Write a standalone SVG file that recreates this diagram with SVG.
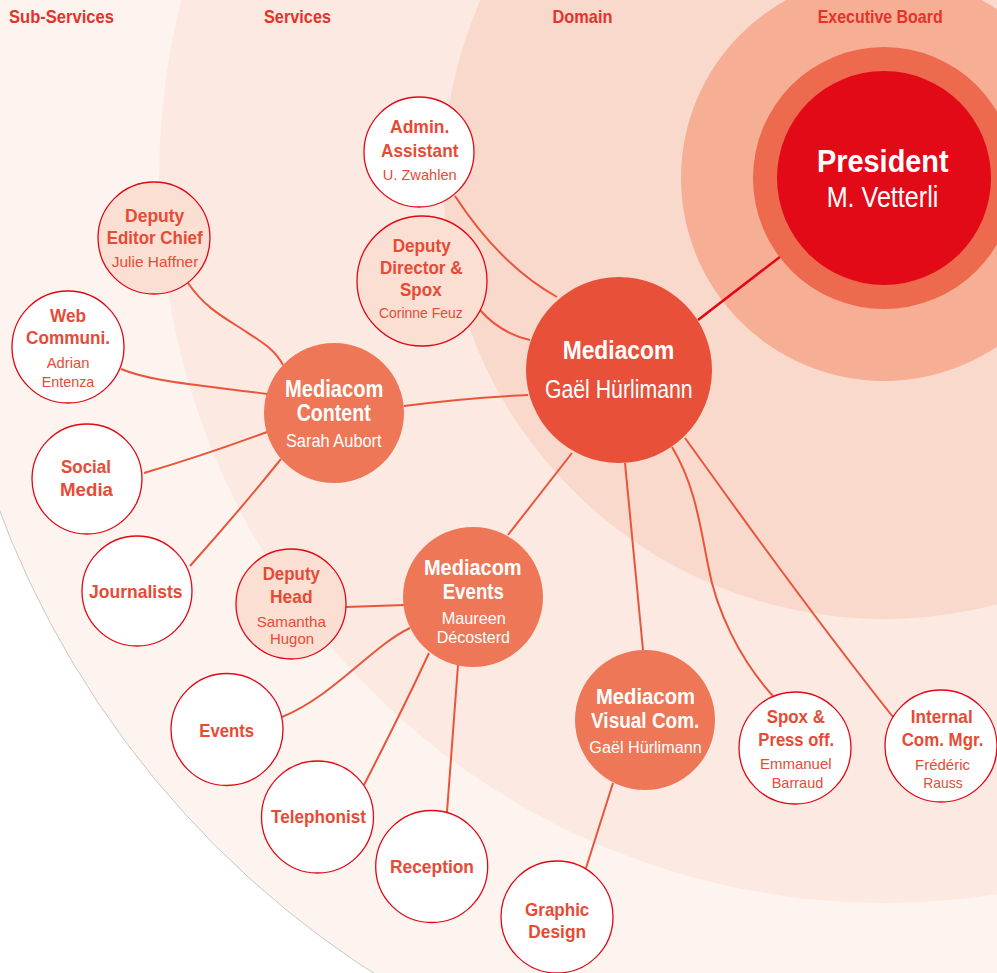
<svg xmlns="http://www.w3.org/2000/svg" width="997" height="973" viewBox="0 0 997 973">
<defs>
<style>
text{font-family:"Liberation Sans Narrow","Liberation Sans",Arial,sans-serif;text-anchor:middle}
.hdr{fill:#E3342B;font-weight:bold;font-size:19px}
.tb{fill:#E64B35;font-weight:bold;font-size:19px}
.tn{fill:#E64B35;font-size:15px}
.wb{fill:#FFFFFF;font-weight:bold}
.wn{fill:#FFFFFF}
.sub{fill:#FFFFFF;stroke:#E30613;stroke-width:1.3}
.dep{fill:#FBDFD3;stroke:#E30613;stroke-width:1.3}
.svc{fill:#EE7757}
.dom{fill:#E8503A}
.con{fill:none;stroke:#E9553B;stroke-width:2}
.conp{fill:none;stroke:#E30613;stroke-width:2.5}
</style>
</defs>
<rect x="0" y="0" width="997" height="973" fill="#FFFFFF"/>
<g id="background">
<circle cx="884" cy="178" r="945" fill="#FDF4F0" stroke="#BBBBBB" stroke-width="0.8"/>
<circle cx="884" cy="178" r="725" fill="#FCEAE2"/>
<circle cx="884" cy="178" r="441" fill="#F9D9CB"/>
<circle cx="884" cy="178" r="203" fill="#F6AE94"/>
</g>
<g id="headers">
<text class="hdr" x="61.5" y="22.7" textLength="105" lengthAdjust="spacingAndGlyphs">Sub-Services</text>
<text class="hdr" x="297.5" y="22.7" textLength="67" lengthAdjust="spacingAndGlyphs">Services</text>
<text class="hdr" x="582.5" y="22.7" textLength="60" lengthAdjust="spacingAndGlyphs">Domain</text>
<text class="hdr" x="880.2" y="22.7" textLength="125" lengthAdjust="spacingAndGlyphs">Executive Board</text>
</g>
<g id="connectors">
<path class="conp" d="M698,320 Q745,284 798,243"/>
<path class="con" d="M455,196 Q500,265 557,297"/>
<path class="con" d="M480,310 Q500,333 530,340"/>
<path class="con" d="M404,406 Q465,398 528,395"/>
<path class="con" d="M188,283 C205,308 225,318 245,331 S275,350 283,365"/>
<path class="con" d="M121,369 C150,381 190,384 267,394"/>
<path class="con" d="M144,473 Q205,455 267,432"/>
<path class="con" d="M281,459 Q240,510 190,566"/>
<path class="con" d="M572,453 L508,535"/>
<path class="con" d="M625,463 L643,650"/>
<path class="con" d="M672,447 C695,485 700,525 708,565 C716,610 740,660 773,696"/>
<path class="con" d="M685,438 C730,500 800,600 893,717"/>
<path class="con" d="M346,607 L404,605"/>
<path class="con" d="M410,628 C372,646 335,695 282,717"/>
<path class="con" d="M429,653 Q405,705 364,785"/>
<path class="con" d="M458,665 L447,812"/>
<path class="con" d="M613,783 L586,868"/>
</g>
<g id="president">
<circle cx="884" cy="178" r="131" fill="#ED6A4E"/>
<circle cx="884" cy="178" r="107" fill="#E20A16"/>
<text class="wb" x="882.8" y="171.7" font-size="32" textLength="131.7" lengthAdjust="spacingAndGlyphs">President</text>
<text class="wn" x="882.5" y="207" font-size="29" textLength="111.7" lengthAdjust="spacingAndGlyphs">M. Vetterli</text>
</g>
<g id="mediacom">
<circle class="dom" cx="619" cy="370" r="93"/>
<text class="wb" x="618.5" y="359.3" font-size="26" textLength="111.7" lengthAdjust="spacingAndGlyphs">Mediacom</text>
<text class="wn" x="618.8" y="397.7" font-size="25" textLength="147.7" lengthAdjust="spacingAndGlyphs">Gaël Hürlimann</text>
</g>
<g id="admin-assistant">
<circle class="sub" cx="419" cy="152" r="55"/>
<text class="tb" x="419.7" y="132.7" textLength="59.3" lengthAdjust="spacingAndGlyphs">Admin.</text>
<text class="tb" x="419.7" y="156.7" textLength="77.3" lengthAdjust="spacingAndGlyphs">Assistant</text>
<text class="tn" x="419.7" y="180" textLength="74" lengthAdjust="spacingAndGlyphs">U. Zwahlen</text>
</g>
<g id="deputy-director">
<circle class="dep" cx="422" cy="281" r="65"/>
<text class="tb" x="421.7" y="252" textLength="58" lengthAdjust="spacingAndGlyphs">Deputy</text>
<text class="tb" x="421.3" y="274.3" textLength="82.7" lengthAdjust="spacingAndGlyphs">Director &amp;</text>
<text class="tb" x="420.8" y="295.5" textLength="41.7" lengthAdjust="spacingAndGlyphs">Spox</text>
<text class="tn" x="420.8" y="318.3" textLength="83.7" lengthAdjust="spacingAndGlyphs">Corinne Feuz</text>
</g>
<g id="deputy-editor">
<circle class="dep" cx="154" cy="238" r="56"/>
<text class="tb" x="154.7" y="221.7" textLength="59.3" lengthAdjust="spacingAndGlyphs">Deputy</text>
<text class="tb" x="154.7" y="244.3" textLength="96" lengthAdjust="spacingAndGlyphs">Editor Chief</text>
<text class="tn" x="155" y="267.3" textLength="86.7" lengthAdjust="spacingAndGlyphs">Julie Haffner</text>
</g>
<g id="web-communi">
<circle class="sub" cx="68" cy="347" r="56"/>
<text class="tb" x="68" y="321.7" textLength="36" lengthAdjust="spacingAndGlyphs">Web</text>
<text class="tb" x="68" y="344.3" textLength="84" lengthAdjust="spacingAndGlyphs">Communi.</text>
<text class="tn" x="68" y="368.3" textLength="42.7" lengthAdjust="spacingAndGlyphs">Adrian</text>
<text class="tn" x="68" y="386.7" textLength="52.7" lengthAdjust="spacingAndGlyphs">Entenza</text>
</g>
<g id="mediacom-content">
<circle class="svc" cx="334" cy="413" r="70"/>
<text class="wb" x="334.2" y="396.7" font-size="23" textLength="98.3" lengthAdjust="spacingAndGlyphs">Mediacom</text>
<text class="wb" x="333.7" y="420.7" font-size="23" textLength="74" lengthAdjust="spacingAndGlyphs">Content</text>
<text class="wn" x="333.8" y="446.7" font-size="18" textLength="95.7" lengthAdjust="spacingAndGlyphs">Sarah Aubort</text>
</g>
<g id="social-media">
<circle class="sub" cx="87" cy="479" r="55"/>
<text class="tb" x="86" y="472.7" textLength="50" lengthAdjust="spacingAndGlyphs">Social</text>
<text class="tb" x="86.5" y="496" textLength="53" lengthAdjust="spacingAndGlyphs">Media</text>
</g>
<g id="journalists">
<circle class="sub" cx="137" cy="591" r="55"/>
<text class="tb" x="135.8" y="598" textLength="93.5" lengthAdjust="spacingAndGlyphs">Journalists</text>
</g>
<g id="deputy-head">
<circle class="dep" cx="291" cy="604" r="55"/>
<text class="tb" x="291.3" y="580" textLength="57.3" lengthAdjust="spacingAndGlyphs">Deputy</text>
<text class="tb" x="291.3" y="603.3" textLength="42.7" lengthAdjust="spacingAndGlyphs">Head</text>
<text class="tn" x="291.3" y="626.7" font-size="16" textLength="69.3" lengthAdjust="spacingAndGlyphs">Samantha</text>
<text class="tn" x="292" y="643.5" font-size="16" textLength="44" lengthAdjust="spacingAndGlyphs">Hugon</text>
</g>
<g id="mediacom-events">
<circle class="svc" cx="473" cy="597" r="70"/>
<text class="wb" x="472.8" y="575" font-size="22" textLength="97.7" lengthAdjust="spacingAndGlyphs">Mediacom</text>
<text class="wb" x="473.3" y="599" font-size="22" textLength="61.3" lengthAdjust="spacingAndGlyphs">Events</text>
<text class="wn" x="473.8" y="624" font-size="17" textLength="64.3" lengthAdjust="spacingAndGlyphs">Maureen</text>
<text class="wn" x="473.3" y="643.3" font-size="17" textLength="73.3" lengthAdjust="spacingAndGlyphs">Décosterd</text>
</g>
<g id="events">
<circle class="sub" cx="227" cy="729.5" r="56"/>
<text class="tb" x="226.7" y="736.7" textLength="54.7" lengthAdjust="spacingAndGlyphs">Events</text>
</g>
<g id="telephonist">
<circle class="sub" cx="317.5" cy="817" r="56"/>
<text class="tb" x="318.5" y="823.3" textLength="95" lengthAdjust="spacingAndGlyphs">Telephonist</text>
</g>
<g id="reception">
<circle class="sub" cx="431.7" cy="866.5" r="56"/>
<text class="tb" x="432" y="873.3" textLength="84" lengthAdjust="spacingAndGlyphs">Reception</text>
</g>
<g id="mediacom-visual">
<circle class="svc" cx="645" cy="720" r="70"/>
<text class="wb" x="645.5" y="704.3" font-size="22" textLength="99" lengthAdjust="spacingAndGlyphs">Mediacom</text>
<text class="wb" x="645.2" y="728.3" font-size="22" textLength="108.3" lengthAdjust="spacingAndGlyphs">Visual Com.</text>
<text class="wn" x="645.5" y="753.3" font-size="16" textLength="112.3" lengthAdjust="spacingAndGlyphs">Gaël Hürlimann</text>
</g>
<g id="graphic-design">
<circle class="sub" cx="557" cy="917" r="56"/>
<text class="tb" x="557.2" y="916" textLength="64.3" lengthAdjust="spacingAndGlyphs">Graphic</text>
<text class="tb" x="557.2" y="938.3" textLength="57.7" lengthAdjust="spacingAndGlyphs">Design</text>
</g>
<g id="spox-press">
<circle class="sub" cx="795" cy="748" r="56"/>
<text class="tb" x="795.8" y="722.7" textLength="58.3" lengthAdjust="spacingAndGlyphs">Spox &amp;</text>
<text class="tb" x="796.2" y="746" textLength="75.7" lengthAdjust="spacingAndGlyphs">Press off.</text>
<text class="tn" x="795.8" y="769.3" font-size="16" textLength="71.7" lengthAdjust="spacingAndGlyphs">Emmanuel</text>
<text class="tn" x="797.5" y="787.7" font-size="16" textLength="51.7" lengthAdjust="spacingAndGlyphs">Barraud</text>
</g>
<g id="internal-com">
<circle class="sub" cx="941" cy="746" r="56"/>
<text class="tb" x="941.7" y="722.7" textLength="62" lengthAdjust="spacingAndGlyphs">Internal</text>
<text class="tb" x="942.5" y="746" textLength="81.7" lengthAdjust="spacingAndGlyphs">Com. Mgr.</text>
<text class="tn" x="942.5" y="770" font-size="16" textLength="55" lengthAdjust="spacingAndGlyphs">Frédéric</text>
<text class="tn" x="943" y="788.3" font-size="16" textLength="39.3" lengthAdjust="spacingAndGlyphs">Rauss</text>
</g>
</svg>
